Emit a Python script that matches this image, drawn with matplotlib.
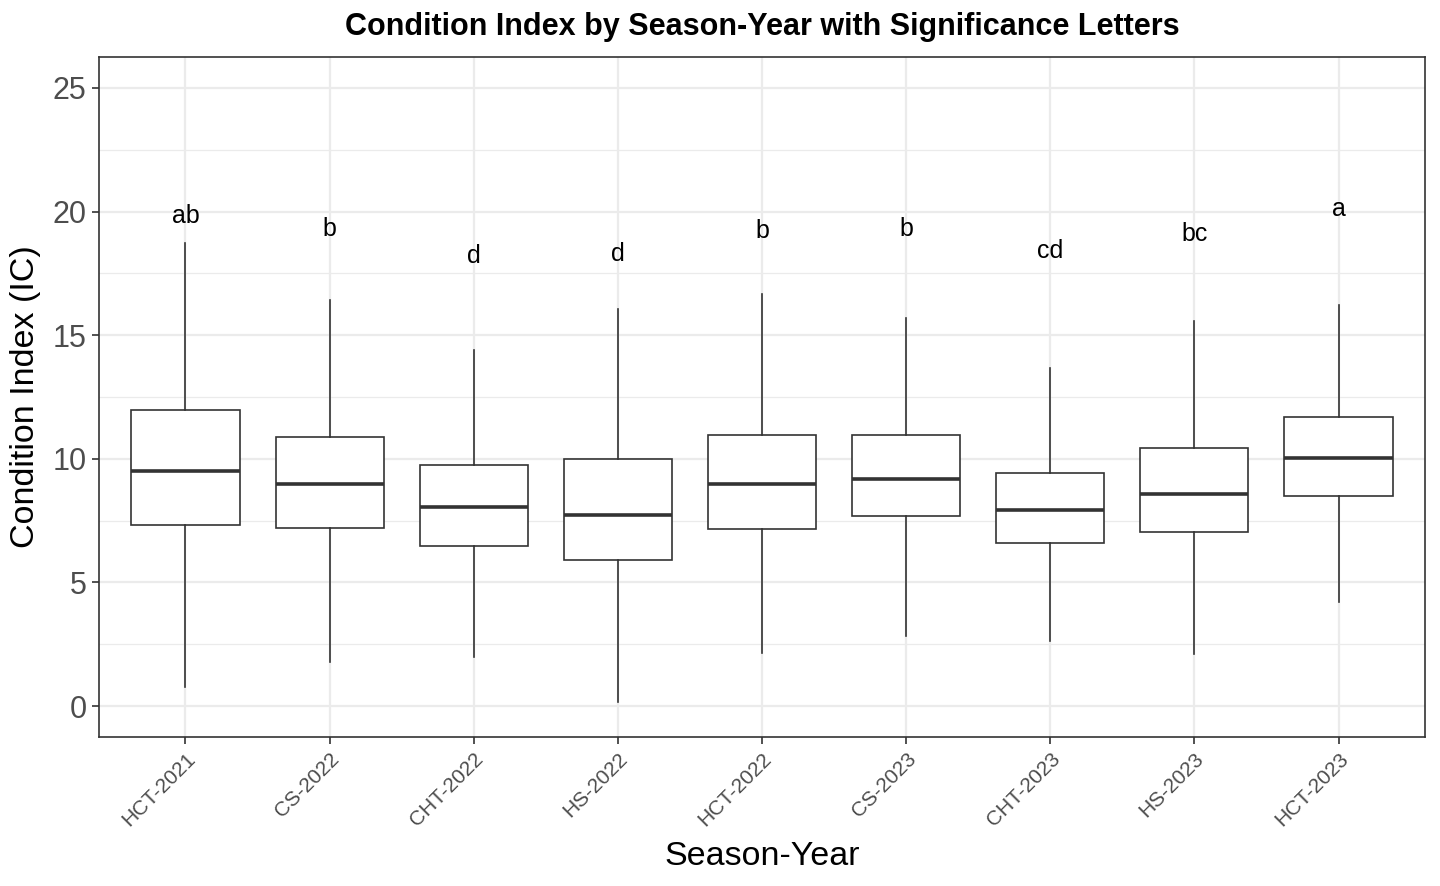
import matplotlib
matplotlib.use("Agg")
import matplotlib.pyplot as plt
from matplotlib.ticker import MultipleLocator

plt.rcParams['font.family'] = ['Liberation Sans', 'DejaVu Sans']

categories = ["HCT-2021", "CS-2022", "CHT-2022", "HS-2022", "HCT-2022",
              "CS-2023", "CHT-2023", "HS-2023", "HCT-2023"]
whisker_low = [0.77, 1.78, 1.98, 0.16, 2.14, 2.82, 2.62, 2.10, 4.20]
q1 = [7.34, 7.22, 6.46, 5.89, 7.18, 7.67, 6.58, 7.06, 8.51]
median = [9.52, 9.00, 8.07, 7.71, 9.00, 9.20, 7.91, 8.56, 10.05]
q3 = [11.98, 10.90, 9.73, 10.00, 10.98, 10.98, 9.44, 10.45, 11.70]
whisker_high = [18.72, 16.42, 14.41, 16.06, 16.67, 15.70, 13.68, 15.58, 16.22]
letters = ["ab", "b", "d", "d", "b", "b", "cd", "bc", "a"]
letter_y = [19.8, 19.3, 18.2, 18.3, 19.2, 19.3, 18.4, 19.1, 20.1]

fig = plt.figure(figsize=(14.4, 8.86), dpi=100)
ax = fig.add_axes([99/1440, 1 - 737/886, (1425-99)/1440, (737-57)/886])

stats = []
for i, c in enumerate(categories):
    stats.append(dict(label=c, whislo=whisker_low[i], q1=q1[i], med=median[i],
                      q3=q3[i], whishi=whisker_high[i], fliers=[]))

pos = list(range(1, len(categories) + 1))
ax.bxp(stats, positions=pos, widths=0.75, showfliers=False, showcaps=False,
       patch_artist=True,
       boxprops=dict(facecolor='white', edgecolor='#333333', linewidth=1.2),
       medianprops=dict(color='#333333', linewidth=2.6),
       whiskerprops=dict(color='#333333', linewidth=1.2),
       zorder=3)

for i, (l, y) in enumerate(zip(letters, letter_y)):
    ax.text(pos[i], y, l, ha='center', va='center', fontsize=18, color='black', zorder=4)

ax.set_xlim(0.4, len(categories) + 0.6)
ax.set_ylim(-1.25, 26.25)
ax.yaxis.set_major_locator(MultipleLocator(5))
ax.yaxis.set_minor_locator(MultipleLocator(2.5))
ax.set_xticks(pos)
ax.set_xticklabels(categories, rotation=45, ha='right', rotation_mode='anchor',
                   fontsize=15, color='#4D4D4D')
ax.tick_params(axis='y', labelsize=22, labelcolor='#4D4D4D', color='#333333',
               length=5, width=1.2, pad=4)
ax.tick_params(axis='x', color='#333333', length=5, width=1.2, pad=4)
ax.tick_params(axis='y', which='minor', length=0)

ax.grid(True, which='major', color='#EBEBEB', linewidth=1.6, zorder=0)
ax.grid(True, which='minor', axis='y', color='#EBEBEB', linewidth=0.9, zorder=0)
ax.set_axisbelow(True)
for s in ax.spines.values():
    s.set_color('#333333')
    s.set_linewidth(1.2)

ax.set_xlabel("Season-Year", fontsize=24.5, color='black', labelpad=8)
ax.set_ylabel("Condition Index (IC)", fontsize=24.5, color='black', labelpad=8)
ax.set_title("Condition Index by Season-Year with Significance Letters",
             fontsize=22, fontweight='bold', pad=16)

fig.savefig("out.png", dpi=100)
